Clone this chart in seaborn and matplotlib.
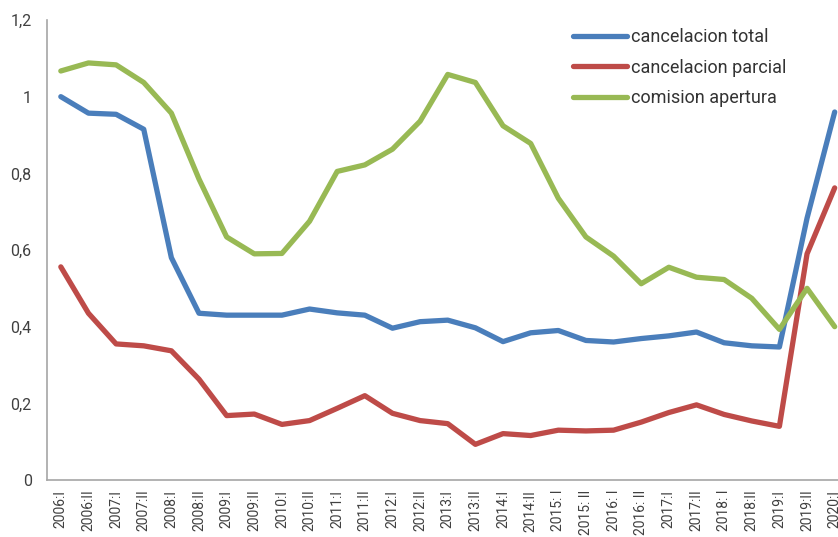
import matplotlib
matplotlib.use("Agg")
import matplotlib.pyplot as plt
from matplotlib.ticker import FuncFormatter, FixedLocator
import numpy as np
import pandas as pd
import seaborn as sns

# periods (semesters) on the x axis
periodos = ['2006:I', '2006:II', '2007:I', '2007:II', '2008:I', '2008:II',
            '2009:I', '2009:II', '2010:I', '2010:II', '2011:I', '2011:II',
            '2012:I', '2012:II', '2013:I', '2013:II', '2014:I', '2014:II',
            '2015: I', '2015: II', '2016: I', '2016: II', '2017:I', '2017:II',
            '2018: I', '2018:II', '2019:I', '2019:II', '2020:I']

cancelacion_total = [1.00, 0.957, 0.954, 0.915, 0.58, 0.435, 0.43, 0.43, 0.43,
                     0.446, 0.436, 0.43, 0.396, 0.413, 0.417, 0.397, 0.361,
                     0.384, 0.39, 0.364, 0.36, 0.369, 0.376, 0.386, 0.358,
                     0.35, 0.347, 0.683, 0.96]

cancelacion_parcial = [0.556, 0.435, 0.355, 0.35, 0.337, 0.263, 0.168, 0.172,
                       0.145, 0.155, 0.187, 0.22, 0.174, 0.155, 0.147, 0.093,
                       0.121, 0.116, 0.13, 0.128, 0.13, 0.151, 0.176, 0.196,
                       0.171, 0.154, 0.14, 0.59, 0.762]

comision_apertura = [1.067, 1.088, 1.083, 1.037, 0.957, 0.785, 0.634, 0.59,
                     0.591, 0.675, 0.805, 0.822, 0.863, 0.936, 1.058, 1.037,
                     0.924, 0.878, 0.735, 0.634, 0.584, 0.512, 0.555, 0.529,
                     0.523, 0.474, 0.393, 0.5, 0.4]

series = ['cancelacion total', 'cancelacion parcial', 'comision apertura']
colores = ['#4A7EBB', '#BE4B48', '#98B954']

sns.set_style("white")
plt.rcParams['font.family'] = ['Roboto', 'DejaVu Sans']

n = len(periodos)
df = pd.DataFrame({
    'x': np.tile(np.arange(n), 3),
    'valor': cancelacion_total + cancelacion_parcial + comision_apertura,
    'serie': np.repeat(series, n),
})

fig = plt.figure(figsize=(8.38, 5.37), dpi=100)
# axes run a bit past the right edge, like in the original
ax = fig.add_axes([47 / 838, 57 / 537, 801.5 / 838, 460 / 537])

sns.lineplot(data=df, x='x', y='valor', hue='serie', hue_order=series,
             palette=colores, linewidth=3.8, ax=ax, legend=True,
             solid_capstyle='round')

ax.set_xlim(-0.5, n - 0.5)
ax.set_ylim(0, 1.2)
ax.set_xlabel('')
ax.set_ylabel('')

ax.set_yticks(np.arange(0, 1.21, 0.2))
ax.yaxis.set_major_formatter(FuncFormatter(
    lambda v, p: ('%g' % round(v, 1)).replace('.', ',')))

# labels at category centers, tick marks between categories
ax.set_xticks(np.arange(n))
ax.set_xticklabels(periodos, rotation=90, fontsize=10, color='#404040')
ax.xaxis.set_minor_locator(FixedLocator(np.arange(n + 1) - 0.5))
ax.tick_params(axis='x', which='major', length=0, pad=7)
ax.tick_params(axis='x', which='minor', length=5, width=1, color='#A6A6A6',
               direction='out')
ax.tick_params(axis='y', length=5, width=1, color='#A6A6A6', direction='out',
               labelsize=11.5, labelcolor='#404040', pad=6)

for s in ['top', 'right']:
    ax.spines[s].set_visible(False)
for s in ['left', 'bottom']:
    ax.spines[s].set_color('#A6A6A6')
    ax.spines[s].set_linewidth(1.2)

leg = ax.legend(loc='upper left', bbox_to_anchor=(573 / 838, 1 - 28 / 537),
                bbox_transform=fig.transFigure, frameon=False, fontsize=13,
                handlelength=3.0, handletextpad=0.2, labelspacing=0.7,
                borderpad=0, borderaxespad=0)
for t in leg.get_texts():
    t.set_color('#333333')
for h in leg.get_lines():
    h.set_linewidth(3.8)
    h.set_solid_capstyle('round')

fig.savefig('out.png', dpi=100)
